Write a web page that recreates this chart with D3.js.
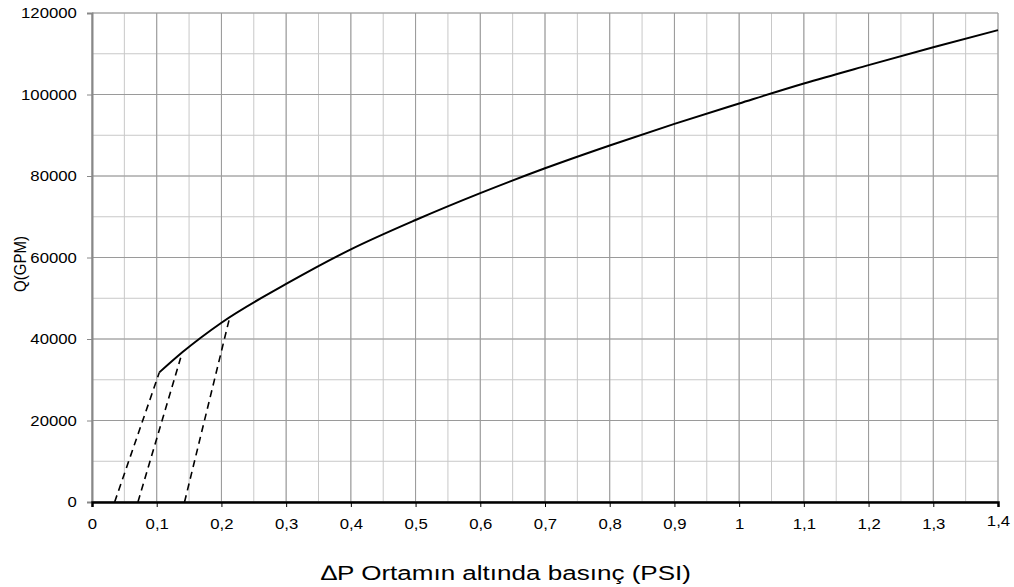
<!DOCTYPE html>
<html>
<head>
<meta charset="utf-8">
<script src="https://cdn.jsdelivr.net/npm/d3@7"></script>
<style>
  body { margin: 0; background: #fff; }
  text { font-family: "Liberation Sans", Arial, sans-serif; }
</style>
</head>
<body>
<script>
// values
const curveP = [0.104, 0.14, 0.2, 0.3, 0.4, 0.5, 0.6, 0.7, 0.8, 0.9, 1.0, 1.1, 1.2, 1.3, 1.4];
const curveQ = [31800, 36800, 44000, 53500, 62000, 69200, 75800, 81900, 87500, 92800, 97800, 102700, 107200, 111600, 115800];

// dashed lines: start on the P axis, end on the curve
const dashStartP = [0.035, 0.071, 0.143];
const dashEndP   = [0.104, 0.137, 0.212];
const dashEndQ   = [31800, 35400, 44800];

const xTicks = [0, 0.1, 0.2, 0.3, 0.4, 0.5, 0.6, 0.7, 0.8, 0.9, 1, 1.1, 1.2, 1.3, 1.4];
const yTicks = [0, 20000, 40000, 60000, 80000, 100000, 120000];

const w = 1014, h = 587;
const m = {left: 92, right: 16, top: 13, bottom: 85};

const svg = d3.select("body").append("svg")
  .attr("width", w)
  .attr("height", h);

const x = d3.scaleLinear().domain([0, 1.4]).range([m.left, w - m.right]);
const y = d3.scaleLinear().domain([0, 120000]).range([h - m.bottom, m.top]);

// minor grid
const minorX = d3.range(0, 29).map(i => i * 0.05);
const minorY = d3.range(0, 13).map(i => i * 10000);

svg.append("g").selectAll("line")
  .data(minorX)
  .enter().append("line")
  .attr("x1", d => x(d)).attr("x2", d => x(d))
  .attr("y1", y(0)).attr("y2", y(120000))
  .attr("stroke", "#c8c8c8").attr("stroke-width", 1);

svg.append("g").selectAll("line")
  .data(minorY)
  .enter().append("line")
  .attr("x1", x(0)).attr("x2", x(1.4))
  .attr("y1", d => y(d)).attr("y2", d => y(d))
  .attr("stroke", "#c8c8c8").attr("stroke-width", 1);

// major grid
svg.append("g").selectAll("line")
  .data(xTicks)
  .enter().append("line")
  .attr("x1", d => x(d)).attr("x2", d => x(d))
  .attr("y1", y(0)).attr("y2", y(120000))
  .attr("stroke", "#9a9a9a").attr("stroke-width", 1);

svg.append("g").selectAll("line")
  .data(yTicks)
  .enter().append("line")
  .attr("x1", x(0)).attr("x2", x(1.4))
  .attr("y1", d => y(d)).attr("y2", d => y(d))
  .attr("stroke", "#9a9a9a").attr("stroke-width", 1);

// y axis
const yAxis = d3.axisLeft(y).tickValues(yTicks).tickSize(5).tickPadding(9).tickFormat(d => d);
const gy = svg.append("g")
  .attr("transform", `translate(${x(0)},0)`)
  .call(yAxis);
gy.select(".domain").attr("stroke", "#888").attr("stroke-width", 2);
gy.selectAll(".tick line").attr("stroke", "#888");
gy.selectAll(".tick text")
  .attr("transform", "scale(1.08,1)")
  .style("font-size", "15.5px").attr("fill", "#000")
  .style("font-family", "'Liberation Sans', Arial, sans-serif");

// x axis
const fmt = d => String(+d.toFixed(1)).replace(".", ",");
const xAxis = d3.axisBottom(x).tickValues(xTicks).tickSize(5).tickPadding(11).tickFormat(fmt);
const gx = svg.append("g")
  .attr("transform", `translate(0,${y(0)})`)
  .call(xAxis);
gx.select(".domain").attr("stroke", "#000").attr("stroke-width", 2.5);
gx.selectAll(".tick line").attr("stroke", "#000");
gx.selectAll(".tick text")
  .attr("transform", "scale(1.08,1)")
  .style("font-size", "15.5px").attr("fill", "#000")
  .style("font-family", "'Liberation Sans', Arial, sans-serif");
// last label sits a little higher in the original
gx.selectAll(".tick text").filter(d => d === 1.4).attr("y", 13);

// dashed lines
svg.append("g").selectAll("line")
  .data(dashStartP.map((p, i) => [p, dashEndP[i], dashEndQ[i]]))
  .enter().append("line")
  .attr("x1", d => x(d[0])).attr("y1", y(0))
  .attr("x2", d => x(d[1])).attr("y2", d => y(d[2]))
  .attr("stroke", "#000").attr("stroke-width", 1.6)
  .attr("stroke-dasharray", "7,5");

// main curve
const line = d3.line()
  .x(d => x(d[0]))
  .y(d => y(d[1]))
  .curve(d3.curveMonotoneX);

svg.append("path")
  .datum(curveP.map((p, i) => [p, curveQ[i]]))
  .attr("d", line)
  .attr("fill", "none")
  .attr("stroke", "#000")
  .attr("stroke-width", 2);

// titles
svg.append("text")
  .text("Q(GPM)")
  .attr("transform", "translate(26,264) scale(1.1,1) rotate(-90)")
  .attr("text-anchor", "middle")
  .style("font-size", "15px");

svg.append("text")
  .text("∆P Ortamın altında basınç (PSI)")
  .attr("transform", "translate(506,580) scale(1.24,1)")
  .attr("text-anchor", "middle")
  .style("font-size", "21px");
</script>
</body>
</html>
